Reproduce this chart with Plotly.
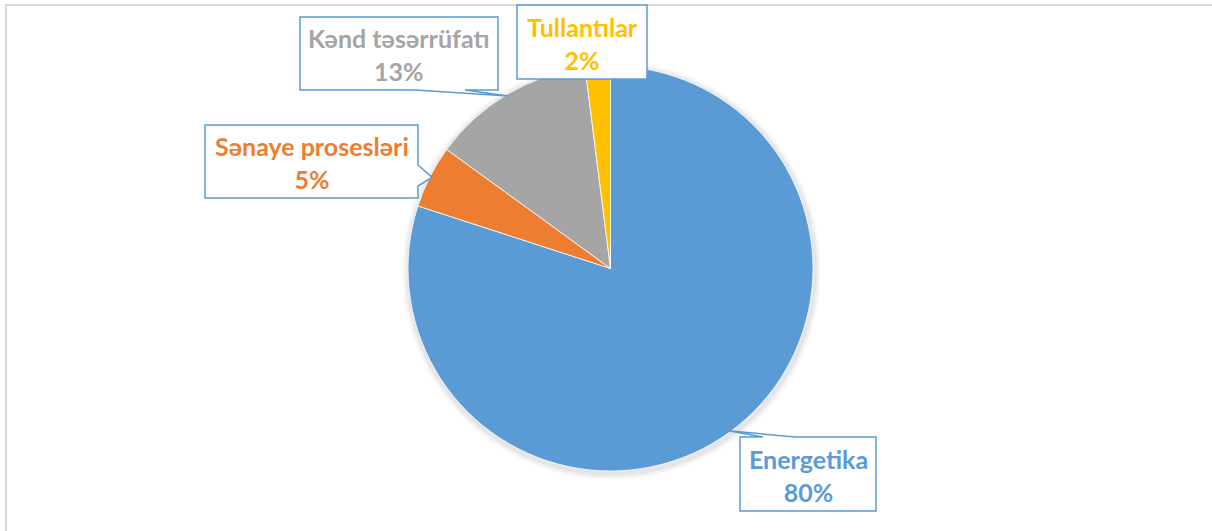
import math
import plotly.graph_objects as go

# ---- data ----
categories = ["Energetika", "Sənaye prosesləri", "Kənd təsərrüfatı", "Tullantılar"]
values = [80, 5, 13, 2]
colors = ["#5B9BD5", "#ED7D31", "#A5A5A5", "#FFC000"]

W, H = 1212, 531
CX, CY, R = 610.5, 268.5, 202.5

# callout boxes (layout): x0, y0, x1, y1, side of pointer, notch start, notch end
boxes = {
    "Energetika": (740, 437, 876, 511, "top", 763, 795),
    "Sənaye prosesləri": (205, 125, 418, 198, "right", 165, 186),
    "Kənd təsərrüfatı": (300, 17, 498, 90, "bottom", 415, 465),
    "Tullantılar": (517, 5, 647, 79, None, 0, 0),
}

fig = go.Figure()
fig.add_trace(go.Pie(
    labels=categories, values=values, sort=False, direction="clockwise",
    rotation=0, marker=dict(colors=colors, line=dict(color="white", width=0.8)),
    textinfo="none", hoverinfo="label+percent", showlegend=False,
    domain=dict(x=[(CX - R) / W, (CX + R) / W], y=[(H - CY - R) / H, (H - CY + R) / H]),
))

shapes = []
# chart frame
shapes.append(dict(type="rect", x0=6, y0=5, x1=W + 10, y1=H + 10, line=dict(color="#D9D9D9", width=2),
                   xref="x", yref="y", layer="below"))
# soft shadow
for k, op in [(7, 0.025), (5, 0.035), (3, 0.045)]:
    shapes.append(dict(type="circle", x0=CX - R - k + 1, x1=CX + R + k + 1, y0=CY - R - k + 2, y1=CY + R + k + 2,
                       fillcolor=f"rgba(0,0,0,{op})", line=dict(width=0), xref="x", yref="y", layer="below"))

annotations = []
total = sum(values)
cum = 0
for cat, v, col in zip(categories, values, colors):
    mid = (cum + v / 2) / total * 2 * math.pi
    cum += v
    tx = CX + 0.99 * R * math.sin(mid)
    ty = CY - 0.99 * R * math.cos(mid)
    x0, y0, x1, y1, side, n0, n1 = boxes[cat]
    if side == "top":
        pts = [(x0, y0), (n0, y0), (tx, ty), (n1, y0), (x1, y0), (x1, y1), (x0, y1)]
    elif side == "right":
        pts = [(x0, y0), (x1, y0), (x1, n0), (tx, ty), (x1, n1), (x1, y1), (x0, y1)]
    elif side == "bottom":
        pts = [(x0, y0), (x1, y0), (x1, y1), (n1, y1), (tx, ty), (n0, y1), (x0, y1)]
    else:
        pts = [(x0, y0), (x1, y0), (x1, y1), (x0, y1)]
    path = "M " + " L ".join(f"{px:.1f},{py:.1f}" for px, py in pts) + " Z"
    shapes.append(dict(type="path", path=path, fillcolor="white", line=dict(color="#5B9BD5", width=1.5),
                       xref="x", yref="y", layer="above"))
    pct = round(v / total * 100)
    annotations.append(dict(x=(x0 + x1) / 2, y=(y0 + y1) / 2 + 1, xref="x", yref="y",
                            text=f"{cat}<br>{pct}%", showarrow=False,
                            font=dict(family="Lato", size=25, color=col, weight="bold"),
                            xanchor="center", yanchor="middle", align="center"))

fig.update_layout(
    width=W, height=H, margin=dict(l=0, r=0, t=0, b=0),
    paper_bgcolor="white", plot_bgcolor="white",
    xaxis=dict(range=[0, W], visible=False, fixedrange=True, domain=[0, 1]),
    yaxis=dict(range=[H, 0], visible=False, fixedrange=True, domain=[0, 1]),
    shapes=shapes, annotations=annotations,
)
fig.write_html("out.html", config={"displayModeBar": False},
               post_script="document.body.style.margin='0';document.body.style.overflow='hidden';")
